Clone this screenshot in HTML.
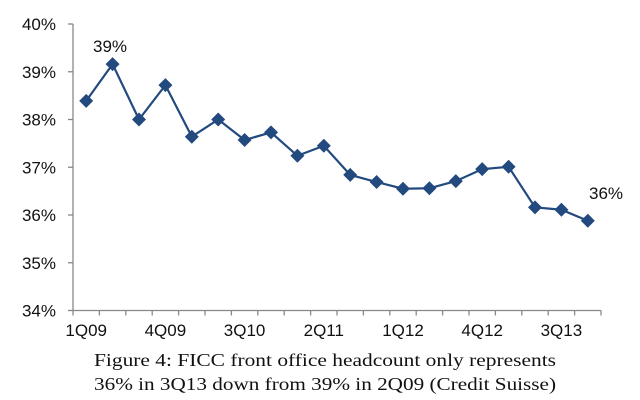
<!DOCTYPE html>
<html><head><meta charset="utf-8"><style>
html,body{margin:0;padding:0;background:#fff;}
svg{display:block;}
</style></head><body>
<svg id="chart" width="640" height="400" viewBox="0 0 640 400" xmlns="http://www.w3.org/2000/svg">
<g id="yaxis"></g>
<g id="xaxis"></g>
<g id="series"></g>
<text x="110" y="52" font-family="Liberation Sans, sans-serif" font-size="17" text-anchor="middle" fill="#111">39%</text>
<text x="606" y="199" font-family="Liberation Sans, sans-serif" font-size="17" text-anchor="middle" fill="#111">36%</text>
<text x="325" y="366" font-family="Liberation Serif, serif" font-size="18" text-anchor="middle" textLength="462" lengthAdjust="spacingAndGlyphs" fill="#111">Figure 4: FICC front office headcount only represents</text>
<text x="325" y="390" font-family="Liberation Serif, serif" font-size="18" text-anchor="middle" textLength="462" lengthAdjust="spacingAndGlyphs" fill="#111">36% in 3Q13 down from 39% in 2Q09 (Credit Suisse)</text>
</svg>
<script>
const categories = ["1Q09","2Q09","3Q09","4Q09","1Q10","2Q10","3Q10","4Q10","1Q11","2Q11","3Q11","4Q11","1Q12","2Q12","3Q12","4Q12","1Q13","2Q13","3Q13","4Q13"];
const values = [38.39,39.16,38.00,38.72,37.64,38.00,37.57,37.73,37.24,37.45,36.84,36.69,36.55,36.56,36.71,36.96,37.01,36.16,36.11,35.88];
const yTicks = [34,35,36,37,38,39,40];
const xLabelEvery = 3;

const NS="http://www.w3.org/2000/svg";
const x0=73, x1=601, yTop=24, yBot=310.5, yMin=34, yMax=40;
const band=(x1-x0)/categories.length;
function xs(i){return x0+band*(i+0.5);}
function ys(v){return yBot-(v-yMin)/(yMax-yMin)*(yBot-yTop);}
function mk(tag,attrs,parent){const e=document.createElementNS(NS,tag);for(const k in attrs)e.setAttribute(k,attrs[k]);parent.appendChild(e);return e;}

const ya=document.getElementById('yaxis');
const l1=mk('line',{x1:x0,x2:x0,y1:yTop,y2:yBot,stroke:'#888','stroke-width':1.3},ya);


yTicks.forEach(t=>{
  const tk=mk('line',{x1:x0-5,x2:x0,y1:ys(t),y2:ys(t),stroke:'#888','stroke-width':1.3},ya);
  
  
  const tx=mk('text',{x:x0-17,y:ys(t)+6,'font-family':'Liberation Sans, sans-serif','font-size':17,'text-anchor':'end',fill:'#111'},ya);
  
  
  tx.textContent=t+'%';
});

const xa=document.getElementById('xaxis');
const l2=mk('line',{x1:x0,x2:x1,y1:yBot,y2:yBot,stroke:'#888','stroke-width':1.3},xa);


for(let i=0;i<=categories.length;i++){
  const tk=mk('line',{x1:x0+band*i,x2:x0+band*i,y1:yBot,y2:yBot+5,stroke:'#888','stroke-width':1.3},xa);
  
  
}
categories.forEach((c,i)=>{
  if(i%xLabelEvery!==0)return;
  const tx=mk('text',{x:xs(i),y:336,'font-family':'Liberation Sans, sans-serif','font-size':17,'text-anchor':'middle',fill:'#111'},xa);
  
  
  tx.textContent=c;
});

const sg=document.getElementById('series');
const pts=values.map((v,i)=>xs(i)+','+ys(v)).join(' ');
const pl=mk('polyline',{points:pts,fill:'none',stroke:'#234a7f','stroke-width':2.2},sg);


values.forEach((v,i)=>{
  const cx=xs(i),cy=ys(v),r=7;
  const d=mk('polygon',{points:`${cx},${cy-r} ${cx+r},${cy} ${cx},${cy+r} ${cx-r},${cy}`,fill:'#234a7f'},sg);
  
  
});
</script>
</body></html>
